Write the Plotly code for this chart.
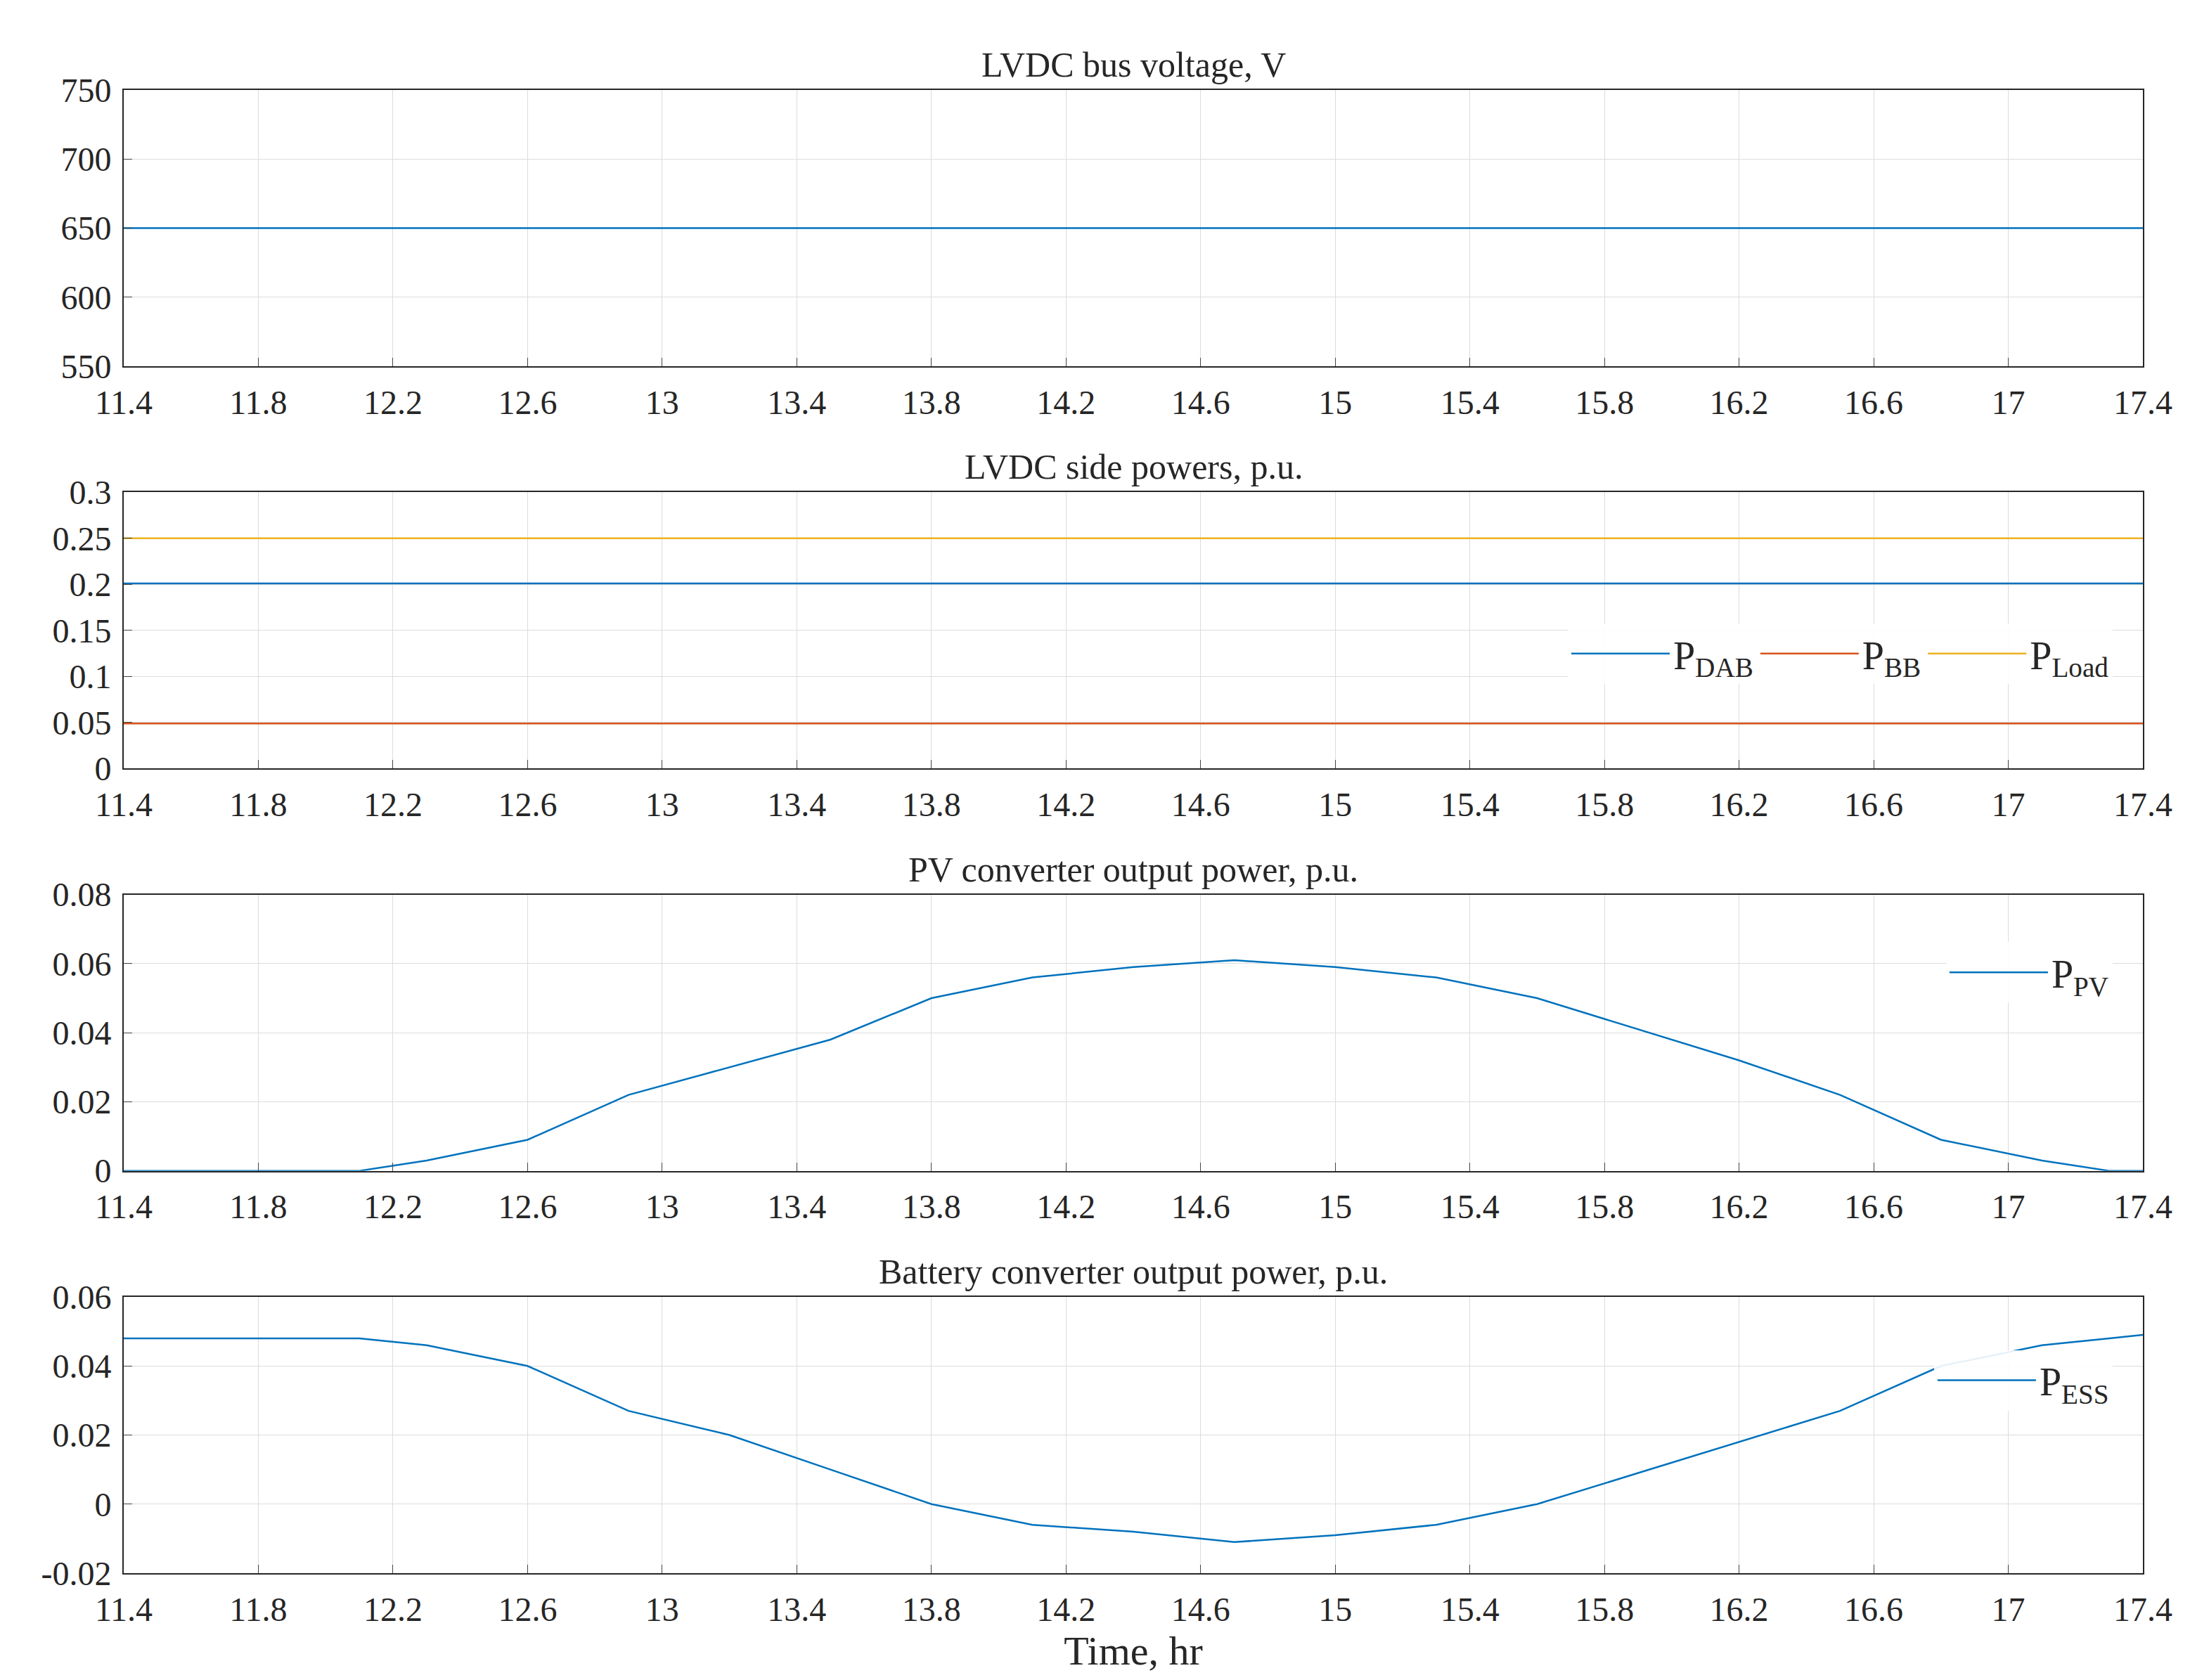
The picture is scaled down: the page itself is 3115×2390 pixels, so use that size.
import plotly.graph_objects as go
from plotly.subplots import make_subplots

t_flat = [11.4, 17.4]
v_lvdc = [650, 650]
p_dab = [0.201, 0.201]
p_bb = [0.049, 0.049]
p_load = [0.25, 0.25]

t = [11.4, 12.1, 12.3, 12.6, 12.9, 13.2, 13.5, 13.8, 14.1, 14.4, 14.7, 15.0,
     15.3, 15.6, 15.9, 16.2, 16.5, 16.8, 17.1, 17.3, 17.4]
p_pv = [0, 0, 0.003, 0.009, 0.022, 0.030, 0.038, 0.050, 0.056, 0.059, 0.061, 0.059,
        0.056, 0.050, 0.041, 0.032, 0.022, 0.009, 0.003, 0, 0]
p_ess = [0.048, 0.048, 0.046, 0.040, 0.027, 0.020, 0.010, 0.0, -0.006, -0.008, -0.011, -0.009,
         -0.006, 0.0, 0.009, 0.018, 0.027, 0.040, 0.046, 0.048, 0.049]

titles = ["LVDC bus voltage, V", "LVDC side powers, p.u.",
          "PV converter output power, p.u.", "Battery converter output power, p.u."]
x_ticks = [11.4 + 0.4 * k for k in range(16)]
x_labels = ["11.4", "11.8", "12.2", "12.6", "13", "13.4", "13.8", "14.2",
            "14.6", "15", "15.4", "15.8", "16.2", "16.6", "17", "17.4"]
y_ticks = [[550, 600, 650, 700, 750],
           [0, 0.05, 0.1, 0.15, 0.2, 0.25, 0.3],
           [0, 0.02, 0.04, 0.06, 0.08],
           [-0.02, 0, 0.02, 0.04, 0.06]]
y_labels = [["550", "600", "650", "700", "750"],
            ["0", "0.05", "0.1", "0.15", "0.2", "0.25", "0.3"],
            ["0", "0.02", "0.04", "0.06", "0.08"],
            ["-0.02", "0", "0.02", "0.04", "0.06"]]
BLUE, RED, YEL = "#0072BD", "#D95319", "#EDB120"
FONT = "Liberation Serif"

fig = make_subplots(rows=4, cols=1, subplot_titles=titles, vertical_spacing=0.085)
lw = 2.5
fig.add_trace(go.Scatter(x=t_flat, y=v_lvdc, mode="lines", name="V<sub>LVDC</sub>",
                         line=dict(color=BLUE, width=lw), legend="legend"), row=1, col=1)
fig.add_trace(go.Scatter(x=t_flat, y=p_dab, mode="lines", name="P<sub>DAB</sub>",
                         line=dict(color=BLUE, width=lw), legend="legend2"), row=2, col=1)
fig.add_trace(go.Scatter(x=t_flat, y=p_bb, mode="lines", name="P<sub>BB</sub>",
                         line=dict(color=RED, width=lw), legend="legend2"), row=2, col=1)
fig.add_trace(go.Scatter(x=t_flat, y=p_load, mode="lines", name="P<sub>Load</sub>",
                         line=dict(color=YEL, width=lw), legend="legend2"), row=2, col=1)
fig.add_trace(go.Scatter(x=t, y=p_pv, mode="lines", name="P<sub>PV</sub>",
                         line=dict(color=BLUE, width=lw), legend="legend3"), row=3, col=1)
fig.add_trace(go.Scatter(x=t, y=p_ess, mode="lines", name="P<sub>ESS</sub>",
                         line=dict(color=BLUE, width=lw), legend="legend4"), row=4, col=1)

yr = [[550, 750], [0, 0.3], [0, 0.08], [-0.02, 0.06]]
for i in range(4):
    fig.update_xaxes(row=i + 1, col=1, range=[11.4, 17.4], tickvals=x_ticks, ticktext=x_labels,
                     showgrid=True, gridcolor="#dcdcdc", mirror=True, showline=True,
                     linecolor="#262626", linewidth=2, ticks="inside", ticklen=12, zeroline=False,
                     ticklabelstandoff=8)
    fig.update_yaxes(row=i + 1, col=1, range=yr[i], tickvals=y_ticks[i], ticktext=y_labels[i],
                     showgrid=True, gridcolor="#dcdcdc",
                     mirror=True, showline=True, linecolor="#262626", linewidth=2,
                     ticks="inside", ticklen=12, zeroline=False, ticklabelstandoff=6)
fig.update_xaxes(row=4, col=1, title_text="Time, hr", title_standoff=4)

leg = dict(bgcolor="rgba(255,255,255,0.9)", borderwidth=0, font=dict(size=56, family=FONT, color="#262626"),
           xanchor="right", yanchor="middle", itemwidth=140)
fig.update_layout(
    width=3115, height=2390, template="plotly_white", plot_bgcolor="white",
    margin=dict(l=168, r=75, t=120, b=160),
    font=dict(family=FONT, size=48, color="#262626"),
    legend=dict(leg, x=0.995, y=0.955),
    legend2=dict(leg, x=0.985, y=0.62, orientation="h"),
    legend3=dict(leg, x=0.985, y=0.405),
    legend4=dict(leg, x=0.985, y=0.13),
)
for a in fig.layout.annotations:
    if a.text in titles:
        a.font = dict(size=50, family=FONT, color="#262626")
        a.yshift = 6
fig.write_html("out.html")
